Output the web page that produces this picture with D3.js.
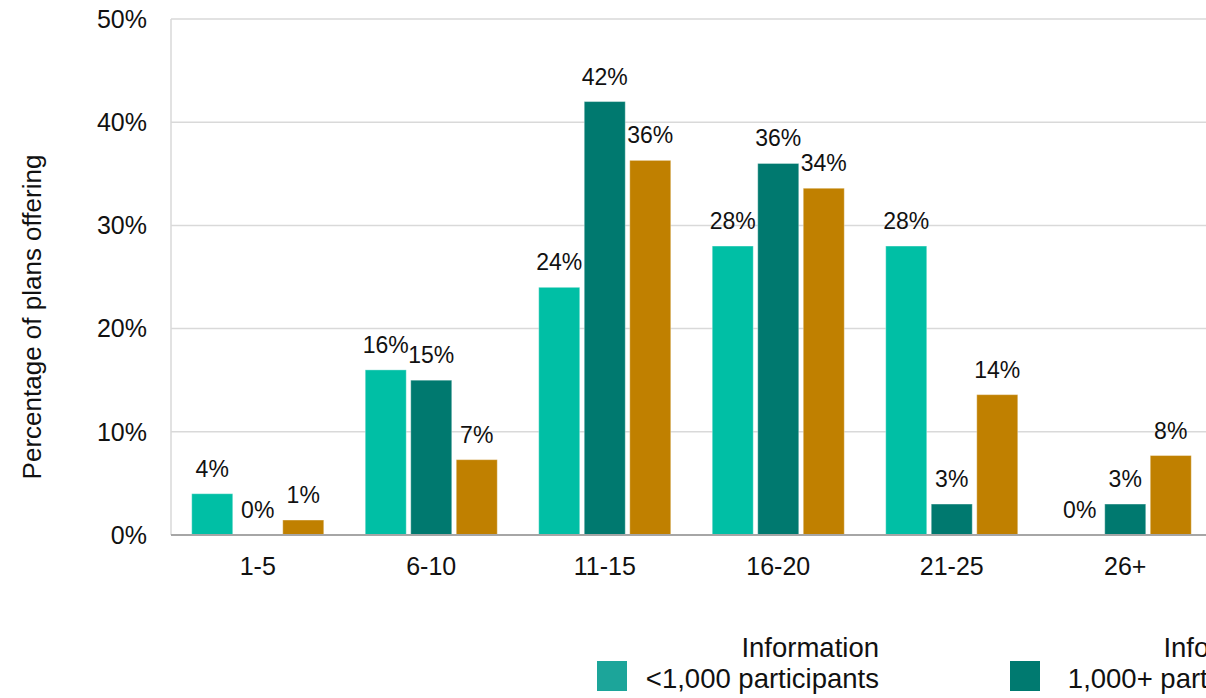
<!DOCTYPE html>
<html>
<head>
<meta charset="utf-8">
<script src="https://cdn.jsdelivr.net/npm/d3@7.9.0/dist/d3.min.js"></script>
<style>
  html, body { margin: 0; padding: 0; background: #fff; overflow: hidden; }
  svg { display: block; font-family: "Liberation Sans", Arial, sans-serif; }
</style>
</head>
<body>
<svg id="chart" width="1206" height="698"></svg>
<script>
const categories = ['1-5', '6-10', '11-15', '16-20', '21-25', '26+'];
const seriesKeys = ['small', 'large', 'other'];
const smallPlans = [4, 16, 24, 28, 28, 0];
const largePlans = [0, 15, 42, 36, 3, 3];
const otherPlans = [1.45, 7.3, 36.3, 33.6, 13.6, 7.7];
const yTicks = [0, 10, 20, 30, 40, 50];
const legendTop = ['Information', 'Information', null];
const legendBottom = ['<1,000 participants', '1,000+ participants', null];

const colors = { small: '#00bfa5', large: '#00796f', other: '#c08000' };
const swatchColors = { small: '#1ca59a', large: '#007a70', other: '#c08000' };

const rows = categories.map((c, i) => ({
  cat: c,
  small: smallPlans[i],
  large: largePlans[i],
  other: otherPlans[i],
}));

const svg = d3.select('#chart');
const plotLeft = 171, plotBottom = 535, plotTop = 19;
const step = 173.5;

const x = d3.scaleBand()
  .domain(categories)
  .range([plotLeft, plotLeft + step * categories.length])
  .paddingInner(0.239)
  .paddingOuter(0.1195);

const xs = d3.scaleBand()
  .domain(seriesKeys)
  .range([0, x.bandwidth()])
  .paddingInner(0.099)
  .paddingOuter(0);

const y = d3.scaleLinear().domain([0, 50]).range([plotBottom, plotTop]);

// gridlines
svg.append('g')
  .selectAll('line')
  .data(yTicks.filter((t) => t > 0))
  .join('line')
  .attr('x1', plotLeft)
  .attr('x2', 1206)
  .attr('y1', (d) => y(d))
  .attr('y2', (d) => y(d))
  .attr('stroke', '#d9d9d9')
  .attr('stroke-width', 1.5);

// left axis line
svg.append('line')
  .attr('x1', plotLeft).attr('x2', plotLeft)
  .attr('y1', plotTop).attr('y2', plotBottom)
  .attr('stroke', '#d9d9d9')
  .attr('stroke-width', 1.5);

// y tick labels
svg.append('g')
  .selectAll('text')
  .data(yTicks)
  .join('text')
  .attr('x', 147)
  .attr('y', (d) => y(d))
  .attr('dy', '0.35em')
  .attr('text-anchor', 'end')
  .attr('font-size', 25)
  .attr('fill', '#111')
  .text((d) => d + '%');

// bars
const groups = svg.append('g')
  .selectAll('g')
  .data(rows)
  .join('g')
  .attr('transform', (d) => `translate(${x(d.cat)},0)`);

groups.selectAll('rect')
  .data((d) => seriesKeys.map((k) => ({ key: k, value: d[k] })))
  .join('rect')
  .attr('x', (d) => xs(d.key))
  .attr('y', (d) => y(d.value))
  .attr('width', xs.bandwidth())
  .attr('height', (d) => plotBottom - y(d.value))
  .attr('fill', (d) => colors[d.key])
  .attr('stroke', (d) => d.value > 0 ? 'rgba(255,255,255,0.35)' : 'none')
  .attr('stroke-width', 1);

groups.selectAll('text')
  .data((d) => seriesKeys.map((k) => ({ key: k, value: d[k] })))
  .join('text')
  .attr('x', (d) => xs(d.key) + xs.bandwidth() / 2)
  .attr('y', (d) => y(d.value) - 17)
  .attr('text-anchor', 'middle')
  .attr('font-size', 23)
  .attr('fill', '#111')
  .text((d) => Math.round(d.value) + '%');

// bottom axis line
svg.append('line')
  .attr('x1', plotLeft).attr('x2', 1206)
  .attr('y1', plotBottom).attr('y2', plotBottom)
  .attr('stroke', '#a6a6a6')
  .attr('stroke-width', 2);

// category labels
svg.append('g')
  .selectAll('text')
  .data(categories)
  .join('text')
  .attr('x', (d) => x(d) + x.bandwidth() / 2)
  .attr('y', 575)
  .attr('text-anchor', 'middle')
  .attr('font-size', 25)
  .attr('fill', '#111')
  .text((d) => d);

// y title
svg.append('text')
  .attr('transform', 'translate(41,317) rotate(-90)')
  .attr('text-anchor', 'middle')
  .attr('font-size', 26)
  .attr('fill', '#111')
  .text('Percentage of plans offering');

// legend (third entry falls outside the frame)
const legendX = d3.scalePoint().domain(seriesKeys).range([597, 597 + 413 * 2]);
const textEnd = { small: 282, large: 291, other: 291 };
const legend = svg.append('g')
  .selectAll('g')
  .data(seriesKeys.filter((k, i) => legendTop[i] !== null))
  .join('g')
  .attr('transform', (k) => `translate(${legendX(k)},0)`);

legend.append('rect')
  .attr('x', 0).attr('y', 661)
  .attr('width', 30).attr('height', 30)
  .attr('fill', (k) => swatchColors[k]);

legend.append('text')
  .attr('x', (k) => textEnd[k])
  .attr('y', 657)
  .attr('text-anchor', 'end')
  .attr('font-size', 27.5)
  .attr('fill', '#111')
  .text((k) => legendTop[seriesKeys.indexOf(k)]);

legend.append('text')
  .attr('x', (k) => textEnd[k])
  .attr('y', 688)
  .attr('text-anchor', 'end')
  .attr('font-size', 27.5)
  .attr('fill', '#111')
  .text((k) => legendBottom[seriesKeys.indexOf(k)]);
</script>
</body>
</html>
